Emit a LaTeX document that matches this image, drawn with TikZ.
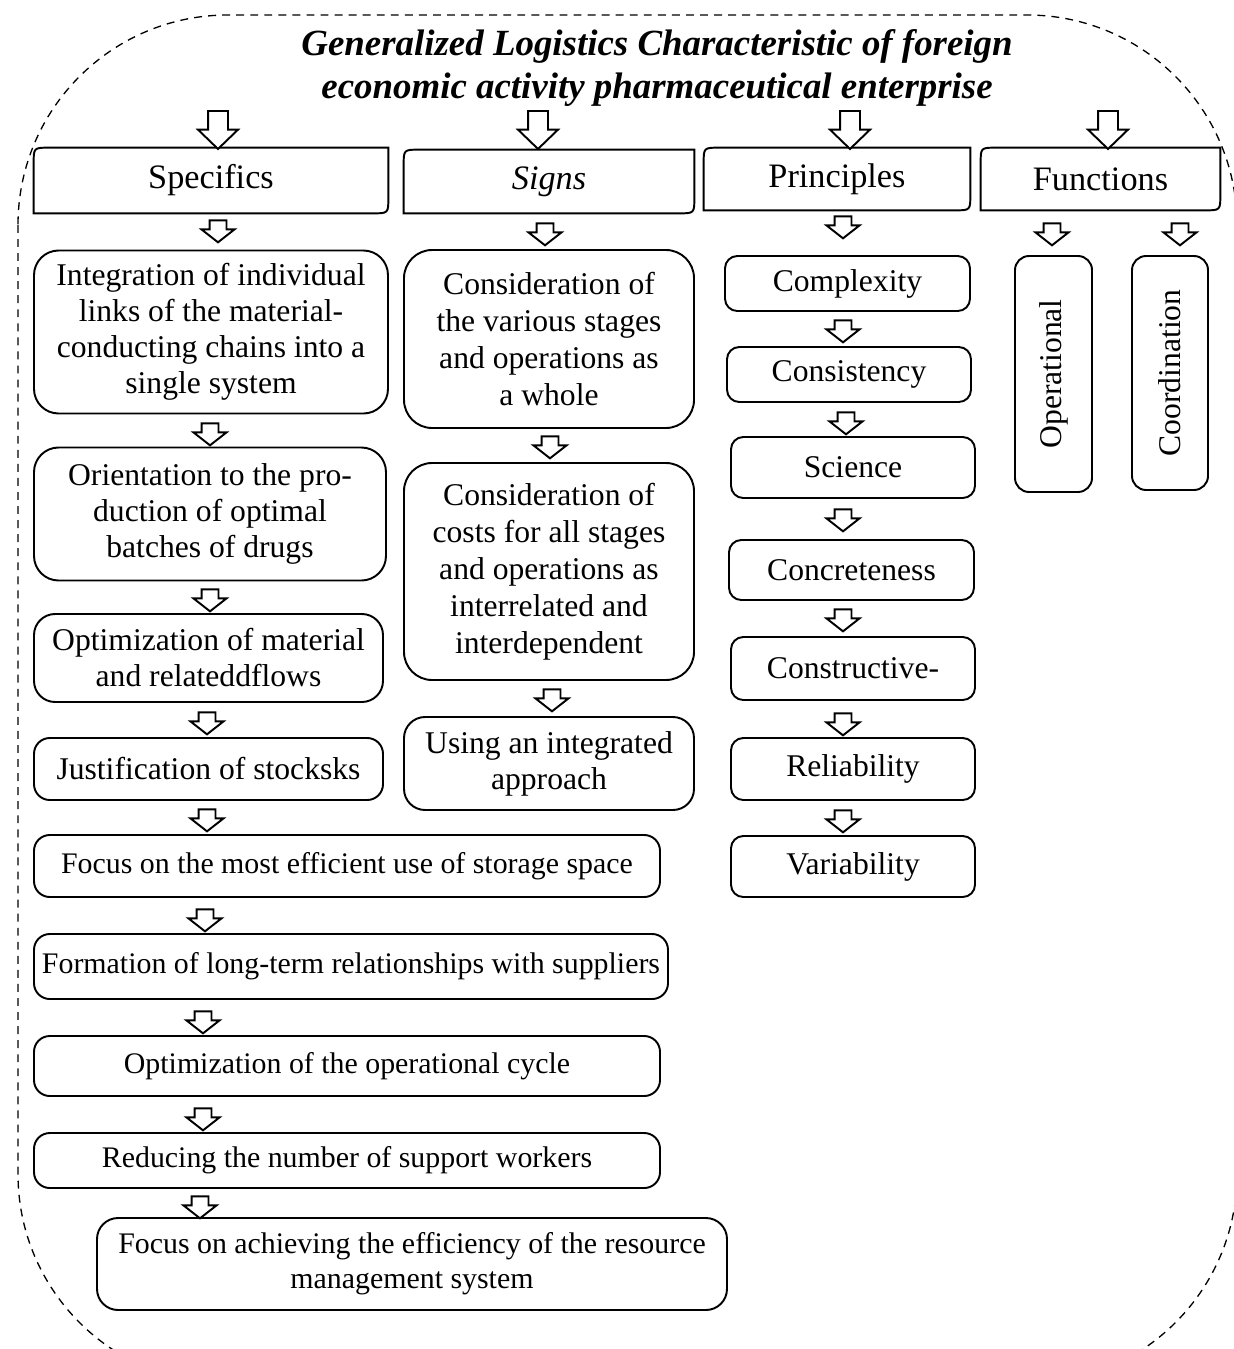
\documentclass[tikz,border=0pt]{standalone}
\usepackage{fontspec}
\setmainfont{Liberation Serif}
\usetikzlibrary{calc,shapes.arrows}
\newcommand{\bodyfs}{\fontsize{18}{20.5}\selectfont}
\newcommand{\widefs}{\fontsize{17}{20}\selectfont}
\tikzset{
  sz/.style 2 args={minimum width=#1*0.02cm,minimum height=#2*0.02cm},
  bline/.style={draw=black,line width=1.1pt},
  border/.style={draw=black,line width=0.75pt,dash pattern=on 4.5pt off 3.5pt},
  ttl/.style={align=center,font=\fontsize{21}{24.5}\selectfont\bfseries\itshape},
  hdr/.style={inner sep=0pt,font=\fontsize{19.5}{23}\selectfont},
  rbox/.style={bline,rounded corners=#1,align=center,inner sep=2pt,font=\bodyfs},
  rbox/.default=7pt,
  vbox/.style={rbox=8pt,rotate=90},
  bigarr/.style={single arrow,bline,fill=white,inner xsep=0pt,inner ysep=0.18cm,
    rotate=-90,anchor=tail,minimum width=0.76cm,minimum height=0.76cm,
    single arrow head extend=0.2cm,single arrow tip angle=92},
  smlarr/.style={single arrow,bline,fill=white,inner xsep=0pt,inner ysep=0.15cm,
    rotate=-90,minimum width=0.62cm,minimum height=0.44cm,
    single arrow head extend=0.16cm,single arrow tip angle=104},
}
% box with only top-left and bottom-right corners rounded
\newcommand{\halfbox}[1]{%
  \draw[bline] (#1.south west) -- ($(#1.north west)+(0pt,-9pt)$)
    .. controls (#1.north west) .. ($(#1.north west)+(9pt,0pt)$)
    -- (#1.north east) -- ($(#1.south east)+(0pt,9pt)$)
    .. controls (#1.south east) .. ($(#1.south east)+(-9pt,0pt)$) -- cycle;}

\begin{document}
\begin{tikzpicture}[x=0.02cm,y=-0.02cm]
  \useasboundingbox (0,0) rectangle (1234,1349);
  % dashed frame
  \begin{scope}
    \clip (0,0) rectangle (1234,1349);
    \draw[border,rounded corners=4.2cm] (18,15) rectangle (1237,1384);
  \end{scope}

  \node[ttl] (title) at (657,68) {Generalized Logistics Characteristic of foreign\\
    economic activity pharmaceutical enterprise};

  % headers
  \node[hdr,sz={354}{65}] (h1) at (211,180.5) {Specifics};
  \node[hdr,sz={290}{63}] (h2) at (549,181.5) {\itshape Signs};
  \node[hdr,sz={266}{62}] (h3) at (837,179) {Principles};
  \node[hdr,sz={239}{62}] (h4) at (1100.5,179) {Functions};
  \halfbox{h1} \halfbox{h2} \halfbox{h3} \halfbox{h4}

  \node[bigarr] (t1) at (218,110) {};
  \node[bigarr] (t2) at (538,110) {};
  \node[bigarr] (t3) at (850,110) {};
  \node[bigarr] (t4) at (1108,110) {};

  % specifics
  \node[rbox=14pt,sz={354}{163}] (sp1) at (211,332)
    {Integration of individual\\links of the material-\\conducting chains into a\\single system};
  \node[rbox=14pt,sz={352}{133}] (sp2) at (210,514)
    {Orientation to the pro-\\duction of optimal\\batches of drugs};
  \node[rbox=12pt,sz={349}{88}] (sp3) at (208.5,658)
    {Optimization of material\\and relateddflows};
  \node[rbox=9pt,sz={349}{62}] (sp4) at (208.5,769) {Justification of stocksks};
  \node[rbox=9pt,sz={626}{62},font=\widefs] (sp5) at (347,866)
    {Focus on the most efficient use of storage space};
  \node[rbox=9pt,sz={634}{65},font=\widefs] (sp6) at (351,966.5)
    {Formation of long-term relationships with suppliers};
  \node[rbox=9pt,sz={626}{60},font=\widefs] (sp7) at (347,1066)
    {Optimization of the operational cycle};
  \node[rbox=9pt,sz={626}{55},font=\widefs] (sp8) at (347,1160.5)
    {Reducing the number of support workers};
  \node[rbox=12pt,sz={630}{92},font=\widefs] (sp9) at (412,1264)
    {Focus on achieving the efficiency of the resource\\management system};

  \node[smlarr] (a1) at (218,228) {};
  \node[smlarr] (a2) at (210,431) {};
  \node[smlarr] (a3) at (210,597) {};
  \node[smlarr] (a4) at (207,720) {};
  \node[smlarr] (a5) at (207,817) {};
  \node[smlarr] (a6) at (205,917) {};
  \node[smlarr] (a7) at (203,1019) {};
  \node[smlarr] (a8) at (203,1116) {};
  \node[smlarr] (a9) at (200,1204) {};

  % signs
  \node[rbox=16pt,sz={290}{178},font=\fontsize{18}{21}\selectfont] (sg1) at (549,339)
    {Consideration of\\the various stages\\and operations as\\a whole};
  \node[rbox=16pt,sz={290}{217},font=\fontsize{18}{21}\selectfont] (sg2) at (549,571.5)
    {Consideration of\\costs for all stages\\and operations as\\interrelated and\\interdependent};
  \node[rbox=12pt,sz={290}{93}] (sg3) at (549,763.5)
    {Using an integrated\\approach};

  \node[smlarr] (b1) at (545,231) {};
  \node[smlarr] (b2) at (550,444) {};
  \node[smlarr] (b3) at (552,697) {};

  % principles
  \node[rbox,sz={245}{55}] (pr1) at (847.5,283.5) {Complexity};
  \node[rbox,sz={244}{55}] (pr2) at (849,374.5) {Consistency};
  \node[rbox,sz={244}{61}] (pr3) at (853,467.5) {Science};
  \node[rbox,sz={245}{60}] (pr4) at (851.5,570) {Concreteness};
  \node[rbox,sz={244}{63}] (pr5) at (853,668.5) {Constructive-};
  \node[rbox,sz={244}{62}] (pr6) at (853,769) {Reliability};
  \node[rbox,sz={244}{61}] (pr7) at (853,866.5) {Variability};

  \node[smlarr] (c1) at (843,224) {};
  \node[smlarr] (c2) at (843,328) {};
  \node[smlarr] (c3) at (846,420) {};
  \node[smlarr] (c4) at (843,517) {};
  \node[smlarr] (c5) at (843,617) {};
  \node[smlarr] (c6) at (843,721) {};
  \node[smlarr] (c7) at (843,818) {};

  % functions
  \node[vbox,sz={236}{77}] (fn1) at (1053.5,374) {Operational};
  \node[vbox,sz={234}{76}] (fn2) at (1170,373) {Coordination};

  \node[smlarr] (d1) at (1052,231) {};
  \node[smlarr] (d2) at (1180,231) {};
\end{tikzpicture}
\end{document}
